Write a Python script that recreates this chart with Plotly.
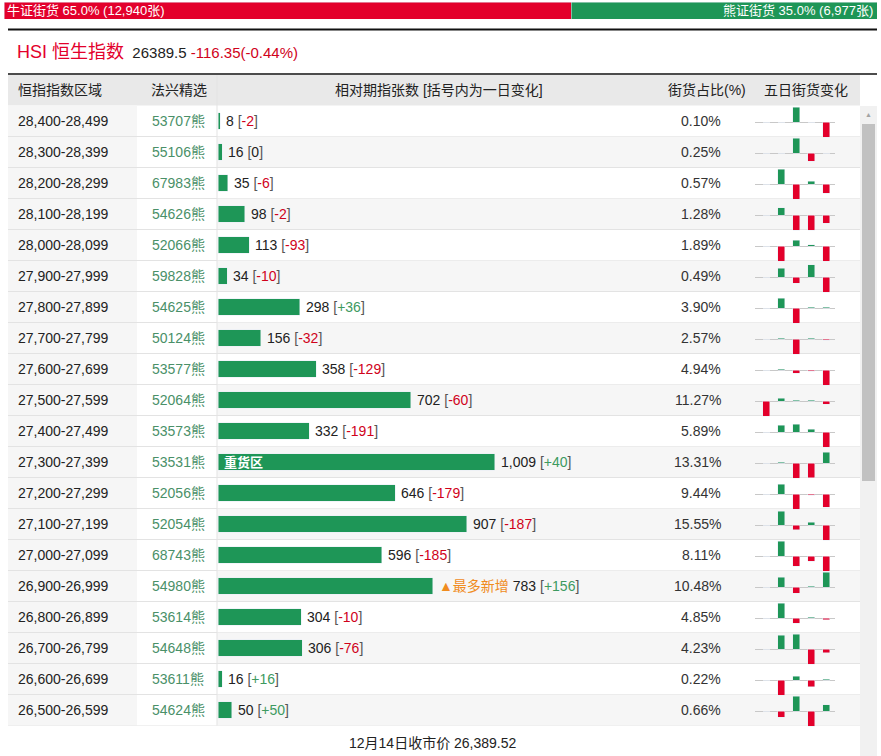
import plotly.graph_objects as go

# ---- data ----
bull_pct = 65.0
bear_pct = 35.0
bull_count = "12,940"
bear_count = "6,977"

hsi_last = "26389.5"
hsi_change = "-116.35(-0.44%)"
close_text = "12月14日收市价 26,389.52"

ranges = ["28,400-28,499", "28,300-28,399", "28,200-28,299", "28,100-28,199",
          "28,000-28,099", "27,900-27,999", "27,800-27,899", "27,700-27,799",
          "27,600-27,699", "27,500-27,599", "27,400-27,499", "27,300-27,399",
          "27,200-27,299", "27,100-27,199", "27,000-27,099", "26,900-26,999",
          "26,800-26,899", "26,700-26,799", "26,600-26,699", "26,500-26,599"]
picks = ["53707熊", "55106熊", "67983熊", "54626熊", "52066熊", "59828熊", "54625熊",
         "50124熊", "53577熊", "52064熊", "53573熊", "53531熊", "52056熊", "52054熊",
         "68743熊", "54980熊", "53614熊", "54648熊", "53611熊", "54624熊"]
contracts = [8, 16, 35, 98, 113, 34, 298, 156, 358, 702, 332, 1009, 646, 907,
             596, 783, 304, 306, 16, 50]
day_change = [-2, 0, -6, -2, -93, -10, 36, -32, -129, -60, -191, 40, -179, -187,
              -185, 156, -10, -76, 16, 50]
share_pct = ["0.10%", "0.25%", "0.57%", "1.28%", "1.89%", "0.49%", "3.90%", "2.57%",
             "4.94%", "11.27%", "5.89%", "13.31%", "9.44%", "15.55%", "8.11%",
             "10.48%", "4.85%", "4.23%", "0.22%", "0.66%"]
# five-day change, scaled per row (largest move = 15)
five_day = [
    [0, 0, 15, 0, -15],
    [0, 0, 15, -8, 0],
    [0, 15, -15, 3, -9],
    [0, 7.5, -15, -15, -8],
    [0, -15, 6, 1.5, -15],
    [0, 9, -6, 12.5, -15],
    [0, 10, -15, 1, 1],
    [0, 1, -15, 1, -1],
    [0, 1, -3, -1, -15],
    [-15, 3, 1, 1, -3],
    [0, 7, 8, 3, -15],
    [0, 1, -15, -14.5, 11],
    [0, 10, -15, -1, -13],
    [0, 14, -4.5, 3, -15],
    [0, 15, -10, -5, -15],
    [0, 10, -6, 1, 15],
    [0, 15, -5, 1, -1.5],
    [0, 14, 15, -15, -3.5],
    [0, -15, 4, -6.5, 1],
    [0, -6, 15, -15, 6.5],
]
heavy_row = "27,300-27,399"
most_new_row = "26,900-26,999"

# ---- styling ----
W, H = 881, 756
GREEN = "#1e9657"
RED = "#e3002b"
TXT_RED = "#d0021b"
TXT_GREEN = "#3d9a5f"
FONT = "Arial, Liberation Sans, Noto Sans CJK SC"
ROW_TOP = 105.5
ROW_H = 31
N = len(ranges)


def px(x):
    return x / W


def py(y):
    return 1 - y / H


fig = go.Figure()

# main bars
fig.add_trace(go.Bar(
    x=contracts, y=ranges, orientation="h", marker_color=GREEN,
    width=0.53, xaxis="x", yaxis="y", hoverinfo="skip", showlegend=False))

# bull / bear stripe
fig.add_trace(go.Bar(x=[bull_pct], y=[""], orientation="h", marker_color=RED,
                     width=1, xaxis="x2", yaxis="y2", hoverinfo="skip", showlegend=False))
fig.add_trace(go.Bar(x=[bear_pct], y=[""], orientation="h", marker_color=GREEN,
                     width=1, xaxis="x2", yaxis="y2", hoverinfo="skip", showlegend=False))

layout = dict(
    width=W, height=H, margin=dict(l=0, r=0, t=0, b=0),
    paper_bgcolor="white", plot_bgcolor="rgba(0,0,0,0)",
    barmode="stack", showlegend=False,
    font=dict(family=FONT, size=14, color="#222"),
    xaxis=dict(domain=[px(218), px(860)], range=[0, 642 / 0.2745], visible=False,
               fixedrange=True),
    yaxis=dict(domain=[py(ROW_TOP + N * ROW_H), py(ROW_TOP)], type="category",
               categoryorder="array", categoryarray=ranges,
               range=[N - 0.5, -0.5], visible=False),
    xaxis2=dict(domain=[px(4), px(877)], range=[0, 100], visible=False),
    yaxis2=dict(domain=[py(19), py(2)], visible=False, anchor="x2"),
)

# five-day mini charts, one axis pair per row
for i, vals in enumerate(five_day):
    k = i + 3
    top = ROW_TOP + i * ROW_H + 1.3
    fig.add_trace(go.Bar(
        x=[1, 2, 3, 4, 5], y=vals, width=0.47,
        marker_color=[GREEN if v > 0 else RED for v in vals],
        xaxis=f"x{k}", yaxis=f"y{k}", hoverinfo="skip", showlegend=False))
    layout[f"xaxis{k}"] = dict(domain=[px(755), px(835)], range=[0.25, 5.58],
                               visible=False, anchor=f"y{k}")
    layout[f"yaxis{k}"] = dict(domain=[py(top + ROW_H), py(top)], range=[-15.5, 15.5],
                               anchor=f"x{k}", showgrid=False, showticklabels=False,
                               zeroline=True, zerolinecolor="#c8c8c8", zerolinewidth=1,
                               showline=False, ticks="")

fig.update_layout(**layout)

shapes = []
# header background
shapes.append(dict(type="rect", xref="paper", yref="paper", x0=px(8), x1=px(860),
                   y0=py(105.5), y1=py(75), fillcolor="#e9e9e9", line_width=0, layer="below"))
# first column background
shapes.append(dict(type="rect", xref="paper", yref="y domain", x0=px(8), x1=px(137),
                   y0=0, y1=1, fillcolor="#f6f6f6", line_width=0, layer="below"))
for i in range(N):
    if i % 2 == 1:
        shapes.append(dict(type="rect", xref="paper", yref="y", x0=px(217), x1=px(860),
                           y0=i - 0.5, y1=i + 0.5, fillcolor="#f6f6f6", line_width=0,
                           layer="below"))
    shapes.append(dict(type="line", xref="paper", yref="y", x0=px(8), x1=px(860),
                       y0=i + 0.5, y1=i + 0.5, line=dict(color="#e3e3e3", width=1),
                       layer="below"))
# column divider
shapes.append(dict(type="line", xref="paper", yref="paper", x0=px(217), x1=px(217),
                   y0=py(725.5), y1=py(75), line=dict(color="#e3e3e3", width=1),
                   layer="below"))
# black rules
shapes.append(dict(type="line", xref="paper", yref="paper", x0=px(8), x1=px(877),
                   y0=py(29.5), y1=py(29.5), line=dict(color="#111", width=2)))
shapes.append(dict(type="line", xref="paper", yref="paper", x0=px(8), x1=px(877),
                   y0=py(74), y1=py(74), line=dict(color="#111", width=1.5)))
# scrollbar
shapes.append(dict(type="rect", xref="paper", yref="paper", x0=px(860), x1=px(877),
                   y0=0, y1=py(106), fillcolor="#f1f1f1", line_width=0))
shapes.append(dict(type="rect", xref="paper", yref="paper", x0=px(862), x1=px(875),
                   y0=py(481), y1=py(124), fillcolor="#c1c1c1", line_width=0))
fig.update_layout(shapes=shapes)

ann = []


def text(x, y, s, anchor="left", size=14, color="#222", **kw):
    ann.append(dict(xref="paper", yref="paper", x=px(x), y=py(y), text=s,
                    xanchor=anchor, yanchor="middle", showarrow=False,
                    font=dict(size=size, color=color, family=FONT), **kw))


# stripe labels
ann.append(dict(xref="x2", yref="paper", x=0, y=py(10.5), xanchor="left", yanchor="middle",
                xshift=1, showarrow=False, text=f"牛证街货 {bull_pct:.1f}% ({bull_count}张)",
                font=dict(size=13, color="white", family=FONT)))
ann.append(dict(xref="x2", yref="paper", x=100, y=py(10.5), xanchor="right", yanchor="middle",
                xshift=-2, showarrow=False, text=f"熊证街货 {bear_pct:.1f}% ({bear_count}张)",
                font=dict(size=13, color="white", family=FONT)))

# title
text(15, 52, f"<span style='font-size:18px;color:{RED}'>HSI 恒生指数</span>  "
             f"<span style='font-size:15px'>{hsi_last}</span> "
             f"<span style='font-size:15px;color:{TXT_RED}'>{hsi_change}</span>", size=15)

# header
text(16, 90, "恒指指数区域")
text(149, 90, "法兴精选")
text(439, 90, "相对期指张数 [括号内为一日变化]", anchor="center")
text(707, 90, "街货占比(%)", anchor="center")
text(806, 90, "五日街货变化", anchor="center")

# rows
for i, r in enumerate(ranges):
    ann.append(dict(xref="paper", yref="y", x=px(16), y=r, text=r, xanchor="left",
                    showarrow=False, font=dict(size=14, color="#222")))
    ann.append(dict(xref="paper", yref="y", x=px(150), y=r, text=picks[i], xanchor="left",
                    showarrow=False, font=dict(size=14, color="#4a9068")))
    ann.append(dict(xref="paper", yref="y", x=px(723), y=r, text=share_pct[i],
                    xanchor="right", showarrow=False, font=dict(size=14, color="#333")))
    c = day_change[i]
    if c > 0:
        cs = f"<span style='color:{TXT_GREEN}'>+{c}</span>"
    elif c < 0:
        cs = f"<span style='color:{TXT_RED}'>{c}</span>"
    else:
        cs = "0"
    label = f"{contracts[i]:,} <span style='color:#555'>[</span>{cs}<span style='color:#555'>]</span>"
    if r == most_new_row:
        label = "<span style='color:#f08c1e'>▲最多新增</span> " + label
    ann.append(dict(xref="x", yref="y", x=contracts[i], y=r, text=label, xanchor="left",
                    xshift=4, showarrow=False, font=dict(size=14, color="#222")))
    if r == heavy_row:
        ann.append(dict(xref="x", yref="y", x=0, y=r, text="<b>重货区</b>", xanchor="left",
                        xshift=4, showarrow=False, font=dict(size=13, color="white")))

# footer and scroll arrow
text(433, 743, close_text, anchor="center")
text(868.5, 115, "▲", anchor="center", size=7, color="#a3a3a3")

fig.update_layout(annotations=ann)

# page margin off so the figure sits at the window's top-left corner
fig.write_html("out.html", config={"displayModeBar": False},
               post_script="document.body.style.margin='0';document.body.style.overflow='hidden';")
